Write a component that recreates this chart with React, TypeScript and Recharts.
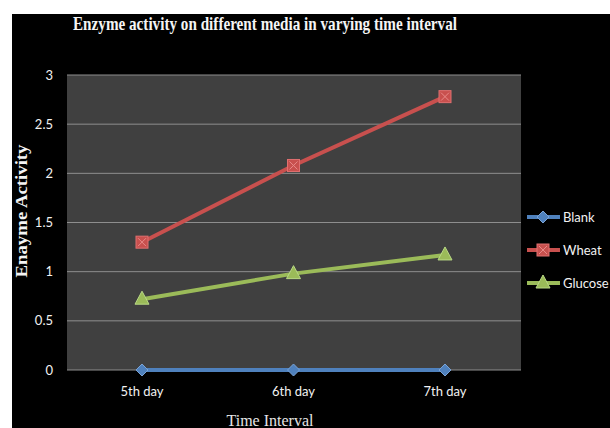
import React from 'react';
import { LineChart, Line, XAxis, YAxis, CartesianGrid, Label } from 'recharts';

const days = ['5th day', '6th day', '7th day'];
const blank = [0, 0, 0];
const wheat = [1.3, 2.08, 2.78];
const glucose = [0.72, 0.98, 1.17];
const yTicks = [0, 0.5, 1, 1.5, 2, 2.5, 3];

const data = days.map((day, i) => ({
    name: day,
    Blank: blank[i],
    Wheat: wheat[i],
    Glucose: glucose[i],
}));

const series = [
    { key: 'Blank', color: '#4f81bd', shape: 'diamond' },
    { key: 'Wheat', color: '#c8504e', shape: 'square' },
    { key: 'Glucose', color: '#9bbb59', shape: 'triangle' },
];

const tickFont = { fill: '#f2f2f2', fontSize: 13, fontFamily: 'Lato, sans-serif' };

const Marker = ({ cx, cy, shape, color }: any) => {
    if (cx == null || cy == null) return null;
    if (shape === 'diamond') {
        return <polygon points={`${cx},${cy - 6} ${cx + 6},${cy} ${cx},${cy + 6} ${cx - 6},${cy}`} fill={color} stroke="#7aa3d6" strokeWidth={1} />;
    }
    if (shape === 'square') {
        return (
            <g>
                <rect x={cx - 6} y={cy - 6} width={12} height={12} fill={color} stroke="#e07070" strokeWidth={1} />
                <path d={`M${cx - 4},${cy - 4}L${cx + 4},${cy + 4}M${cx + 4},${cy - 4}L${cx - 4},${cy + 4}`} stroke="#e88a88" strokeWidth={1} />
            </g>
        );
    }
    return <polygon points={`${cx},${cy - 8} ${cx + 7},${cy + 5} ${cx - 7},${cy + 5}`} fill={color} stroke="#b9d985" strokeWidth={1} />;
};

// legend sits to the right of the plot, outside the chart's layout
const LegendBox = () => (
    <div style={{ position: 'absolute', left: 514, top: 186, display: 'flex', flexDirection: 'column' }}>
        {series.map((s) => (
            <div key={s.key} style={{ display: 'flex', alignItems: 'center', height: 33 }}>
                <svg width={36} height={16}>
                    <line x1={1} y1={8} x2={34} y2={8} stroke={s.color} strokeWidth={4} />
                    <Marker cx={17} cy={8} shape={s.shape} color={s.color} />
                </svg>
                <span style={{ color: '#f2f2f2', fontSize: 13, fontFamily: 'Lato, sans-serif', marginLeft: 1 }}>{s.key}</span>
            </div>
        ))}
    </div>
);

export default function App() {
    return (
        <div style={{ position: 'absolute', left: 0, top: 0, width: 610, height: 428, background: '#fff', overflow: 'hidden' }}>
            <div style={{ position: 'absolute', left: 12, top: 14, width: 598, height: 414, background: '#000' }}>
                <svg width={598} height={30} style={{ position: 'absolute', left: 0, top: 0 }}>
                    <text x={253} y={16} textAnchor="middle" fill="#f4f4f4" fontSize={19} fontWeight="bold"
                          fontFamily="'Liberation Serif', serif" textLength={384} lengthAdjust="spacingAndGlyphs">
                        Enzyme activity on different media in varying time interval
                    </text>
                </svg>
                {/* x axis keeps its default 30px height, added on top of the bottom margin */}
                <LineChart width={598} height={414} data={data}
                           margin={{ top: 61, right: 89, bottom: 28, left: 0 }}>
                    <CartesianGrid vertical={false} fill="#404040" stroke="#8e8e8e" />
                    <XAxis dataKey="name" axisLine={false} tickLine={false} tickSize={0} tickMargin={17}
                           padding={{ left: 75, right: 76 }} tick={tickFont}>
                        <Label content={({ viewBox }: any) => (
                            <text x={viewBox.x + viewBox.width / 2 - 24} y={412} textAnchor="middle"
                                  fill="#e6e6e6" fontSize={16} fontFamily="'Liberation Serif', serif">
                                Time Interval
                            </text>
                        )} />
                    </XAxis>
                    <YAxis width={55} domain={[0, 3]} ticks={yTicks} axisLine={false} tickLine={false}
                           tickSize={0} tickMargin={14} tick={tickFont}>
                        <Label content={() => (
                            <text x={15} y={197} transform="rotate(-90 15 197)" textAnchor="middle"
                                  fill="#f4f4f4" fontSize={17} fontWeight="bold"
                                  fontFamily="'Liberation Serif', serif" textLength={133} lengthAdjust="spacingAndGlyphs">
                                Enayme Activity
                            </text>
                        )} />
                    </YAxis>
                    {series.map((s) => (
                        <Line key={s.key} type="linear" dataKey={s.key} stroke={s.color} strokeWidth={4}
                              isAnimationActive={false}
                              dot={(p: any) => <Marker key={`${s.key}-${p.index}`} cx={p.cx} cy={p.cy} shape={s.shape} color={s.color} />}
                              activeDot={false} />
                    ))}
                </LineChart>
                <LegendBox />
            </div>
        </div>
    );
}
